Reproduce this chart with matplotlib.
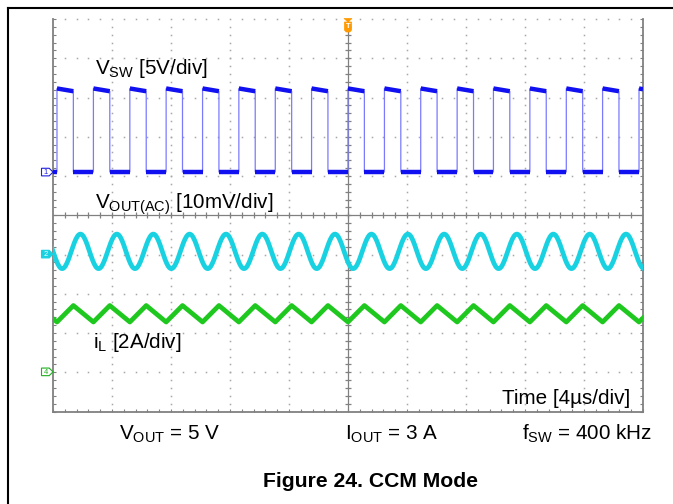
import numpy as np
import matplotlib
matplotlib.use('Agg')
import matplotlib.pyplot as plt
from matplotlib.lines import Line2D
from matplotlib.patches import Polygon
from matplotlib.transforms import ScaledTranslation
from matplotlib.ticker import MultipleLocator

plt.rcParams['font.family'] = ['Liberation Sans', 'DejaVu Sans']
plt.rcParams['mathtext.default'] = 'regular'

# ---------------- data (time in µs, level in screen divisions 0..10) ----------------
vsw_rise_us = [0.27, 2.74, 5.21, 7.67, 10.14, 12.60, 15.07, 17.53, 20.00,
               22.47, 24.93, 27.40, 29.86, 32.33, 34.80, 37.26, 39.73]
vsw_fall_us = [1.38, 3.85, 6.32, 8.78, 11.25, 13.71, 16.18, 18.64,
               21.11, 23.58, 26.04, 28.51, 30.97, 33.44, 35.91, 38.37]
vsw_low_div = 6.10
vsw_high_start_div = 8.23
vsw_high_end_div = 8.16

vout_peak_us = [-0.61, 1.86, 4.33, 6.80, 9.26, 11.73, 14.19, 16.66, 19.12,
                21.59, 24.06, 26.52, 28.99, 31.45, 33.92, 36.39, 38.85]
vout_trough_us = [0.62, 3.09, 5.56, 8.02, 10.49, 12.95, 15.42, 17.88, 20.35,
                  22.82, 25.28, 27.75, 30.21, 32.68, 35.15, 37.61, 40.08]
vout_peak_div = 4.52
vout_trough_div = 3.64

il_peak_us = [-1.09, 1.38, 3.85, 6.32, 8.78, 11.25, 13.71, 16.18, 18.64,
              21.11, 23.58, 26.04, 28.51, 30.97, 33.44, 35.91, 38.37, 40.84]
il_valley_us = [0.27, 2.74, 5.21, 7.67, 10.14, 12.60, 15.07, 17.53, 20.00,
                22.47, 24.93, 27.40, 29.86, 32.33, 34.80, 37.26, 39.73]
il_peak_div = 2.70
il_valley_div = 2.28

ch_marker_div = {'1': 6.10, '2': 4.01, '4': 1.01}
trigger_us = 20.0

T_END = 40.0

# ---------------- figure ----------------
W, H = 673, 504
fig = plt.figure(figsize=(W / 100, H / 100), dpi=100)
fig.patch.set_facecolor('white')

def fx(px):
    return px / W

def fy(py):
    return 1 - py / H

ax = fig.add_axes([fx(53), fy(411.5), 590 / W, 392.5 / H])
ax.set_xlim(0, T_END)
ax.set_ylim(0, 10)
ax.set_facecolor('white')

GRID = '#a8a8a8'
AXC = '#808080'
for s in ['left', 'bottom', 'right']:
    ax.spines[s].set_color(AXC)
    ax.spines[s].set_linewidth(1.3)
ax.spines['top'].set_visible(False)
ax.xaxis.set_major_locator(MultipleLocator(4))
ax.xaxis.set_minor_locator(MultipleLocator(0.8))
ax.yaxis.set_major_locator(MultipleLocator(1))
ax.yaxis.set_minor_locator(MultipleLocator(0.2))
ax.tick_params(which='both', direction='in', length=2.5, width=0.8, color=AXC,
               labelbottom=False, labelleft=False, right=True, top=False)

# dotted graticule
xs_minor = np.arange(0.8, T_END, 0.8)
ys_minor = np.arange(0.2, 10, 0.2)
for yv in range(1, 11):
    if yv == 5:
        continue
    ax.plot(xs_minor, np.full_like(xs_minor, yv), ls='none', marker='s', ms=1.1,
            mew=0, color=GRID, clip_on=False, zorder=1)
for xv in range(4, 40, 4):
    if xv == 20:
        continue
    ax.plot(np.full_like(ys_minor, xv), ys_minor, ls='none', marker='s', ms=1.1,
            mew=0, color=GRID, clip_on=False, zorder=1)

# center cross with ticks
ax.axvline(20, color=AXC, lw=0.9, zorder=1)
ax.axhline(5, color=AXC, lw=0.9, zorder=1)
ax.plot(np.full_like(ys_minor, 20), ys_minor, ls='none', marker='_', ms=4.5, mew=0.9,
        color=AXC, zorder=1)
ax.plot(xs_minor, np.full_like(xs_minor, 5), ls='none', marker='|', ms=4.5, mew=0.9,
        color=AXC, zorder=1)

# ---------------- VSW ----------------
tx, ty = [0.0], [vsw_low_div]
for i, r in enumerate(vsw_rise_us):
    tx += [r, r]
    ty += [vsw_low_div, vsw_high_start_div]
    if i < len(vsw_fall_us):
        f = vsw_fall_us[i]
        tx += [f, f]
        ty += [vsw_high_end_div, vsw_low_div]
    else:
        tx += [T_END]
        ty += [vsw_high_start_div - 0.02]
ax.plot(tx, ty, color='#7a7aff', lw=0.9, zorder=3, solid_joinstyle='miter')
BLUE = '#1010f0'
ax.plot([0, vsw_rise_us[0]], [vsw_low_div] * 2, color=BLUE, lw=3.2, zorder=4,
        solid_capstyle='butt')
for i, r in enumerate(vsw_rise_us):
    if i < len(vsw_fall_us):
        f = vsw_fall_us[i]
        ax.plot([r, f], [vsw_high_start_div, vsw_high_end_div], color=BLUE, lw=3.2,
                zorder=4, solid_capstyle='butt')
        nr = vsw_rise_us[i + 1]
        ax.plot([f, nr], [vsw_low_div] * 2, color=BLUE, lw=3.2, zorder=4,
                solid_capstyle='butt')
    else:
        ax.plot([r, T_END], [vsw_high_start_div, vsw_high_start_div - 0.02],
                color=BLUE, lw=3.2, zorder=4, solid_capstyle='butt')

# ---------------- VOUT(AC) ----------------
ext = sorted([(t, vout_peak_div) for t in vout_peak_us] +
             [(t, vout_trough_div) for t in vout_trough_us])
sx, sy = [], []
for (t0, v0), (t1, v1) in zip(ext[:-1], ext[1:]):
    u = np.linspace(0, 1, 25)
    sx.extend(t0 + (t1 - t0) * u)
    sy.extend((v0 + v1) / 2 + (v0 - v1) / 2 * np.cos(np.pi * u))
ax.plot(sx, sy, color='#18d2e2', lw=3.4, zorder=4)

# ---------------- iL ----------------
tri = sorted([(t, il_peak_div) for t in il_peak_us] +
             [(t, il_valley_div) for t in il_valley_us])
ax.plot([p[0] for p in tri], [p[1] for p in tri], color='#1ec81e', lw=3.4, zorder=4)

# ---------------- channel markers ----------------
ch_style = {'1': ('white', '#2020e0', '#2020e0'),
            '2': ('#18d2e2', '#18d2e2', 'white'),
            '4': ('white', '#1eb01e', '#1eb01e')}
for ch, lvl in ch_marker_div.items():
    fc, ec, tc = ch_style[ch]
    tr = ScaledTranslation(0, lvl, ax.transData)
    verts = [(-11.5, -3.8), (-3.8, -3.8), (0, 0), (-3.8, 3.8), (-11.5, 3.8)]
    poly = Polygon(verts, closed=True, fc=fc, ec=ec, lw=0.8, transform=tr, clip_on=False,
                   zorder=6)
    ax.add_artist(poly)
    ax.annotate(ch, xy=(0, lvl), xycoords=('axes fraction', 'data'),
                xytext=(-5.4, -0.3), textcoords='offset points', ha='center', va='center',
                fontsize=5.5, color=tc, annotation_clip=False, zorder=8)

# ---------------- trigger marker ----------------
trt = ScaledTranslation(trigger_us, 10, ax.transData)
ORG = '#ff9a00'
ax.add_artist(Polygon([(-4, 0.5), (4, 0.5), (0, -3)], closed=True, fc=ORG, ec=ORG,
                      lw=0.5, transform=trt, clip_on=False, zorder=6))
ax.add_artist(Polygon([(-3.6, -3), (3.6, -3), (3.6, -11), (1.8, -13), (-1.8, -13),
                       (-3.6, -11)], closed=True, fc=ORG, ec=ORG, lw=0.5,
                      transform=trt, clip_on=False, zorder=6))
ax.annotate('T', xy=(trigger_us, 10), xycoords='data', xytext=(0, -5.6),
            textcoords='offset points', ha='center', va='center', fontsize=5.5,
            color='white', fontweight='bold', annotation_clip=False, zorder=8)

# ---------------- labels ----------------
FS = 14.9
fig.text(fx(95), fy(74), r'V$_{SW}$ [5V/div]', fontsize=FS, va='baseline')
fig.text(fx(95), fy(209), r'V$_{OUT(AC)}$ [10mV/div]', fontsize=FS, va='baseline')
fig.text(fx(93), fy(348), r'i$_{L}$ [2A/div]', fontsize=FS, va='baseline')
fig.text(fx(502), fy(404), 'Time [4µs/div]', fontsize=FS, va='baseline')
fig.text(fx(119), fy(440), r'V$_{OUT}$ = 5 V', fontsize=FS, va='baseline')
fig.text(fx(345), fy(440), r'I$_{OUT}$ = 3 A', fontsize=FS, va='baseline')
fig.text(fx(522), fy(440), r'f$_{SW}$ = 400 kHz', fontsize=FS, va='baseline')
fig.text(fx(263), fy(487), 'Figure 24. CCM Mode', fontsize=15.2, fontweight='bold',
         va='baseline')

# outer frame (left and top edges)
fig.add_artist(Line2D([fx(8), fx(8)], [fy(8), 0], color='black', lw=1.5))
fig.add_artist(Line2D([fx(8), 1], [fy(8), fy(8)], color='black', lw=1.5))

fig.savefig('out.png', dpi=100, facecolor='white')
